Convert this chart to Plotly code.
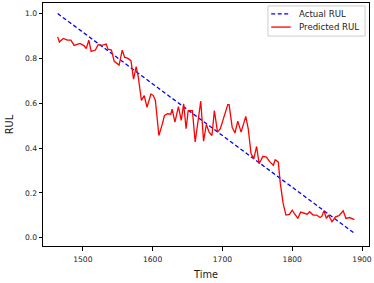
import plotly.graph_objects as go

actual_time = [1464, 1889]
actual_rul = [1.0, 0.02]

# Predicted RUL
pred_time = [1464, 1466.5, 1472, 1478, 1483, 1487.6, 1496, 1502, 1505, 1508.6, 1512, 1518, 1522, 1527,
             1531, 1533.5, 1536, 1541, 1545, 1552, 1556.5, 1560, 1564, 1569, 1572.7, 1576.5, 1579.4,
             1584, 1588, 1592, 1597.6, 1601, 1604, 1609, 1614, 1617, 1621.5, 1626, 1628, 1632, 1637,
             1641, 1644.5, 1648, 1651, 1657, 1661, 1664.6, 1669, 1673, 1677, 1681, 1685, 1688.5, 1693,
             1697, 1703, 1707.7, 1709.6, 1714, 1718, 1722, 1726.8, 1733.5, 1737, 1741, 1745, 1749,
             1752.6, 1758, 1763, 1768, 1773, 1775.6, 1780, 1783, 1787, 1791, 1796, 1800, 1803, 1808,
             1812, 1818, 1821.5, 1825, 1830, 1835, 1840, 1842.6, 1845.5, 1849, 1852, 1857, 1862, 1867,
             1873, 1877, 1882, 1889]
pred_rul = [0.896, 0.873, 0.889, 0.881, 0.881, 0.858, 0.867, 0.856, 0.844, 0.881, 0.831, 0.837, 0.861, 0.858,
            0.861, 0.864, 0.841, 0.837, 0.787, 0.770, 0.837, 0.804, 0.801, 0.790, 0.707, 0.763, 0.719,
            0.612, 0.634, 0.582, 0.641, 0.634, 0.612, 0.456, 0.508, 0.545, 0.553, 0.551, 0.573, 0.516, 0.585,
            0.523, 0.597, 0.486, 0.567, 0.567, 0.427, 0.501, 0.609, 0.431, 0.505, 0.471, 0.456, 0.567, 0.471,
            0.486, 0.553, 0.594, 0.594, 0.493, 0.467, 0.520, 0.471, 0.541, 0.486, 0.375, 0.353, 0.407,
            0.330, 0.363, 0.360, 0.338, 0.323, 0.348, 0.338, 0.241, 0.153, 0.101, 0.104, 0.123, 0.108, 0.086,
            0.114, 0.108, 0.105, 0.116, 0.101, 0.101, 0.090, 0.096, 0.120, 0.086, 0.101, 0.071, 0.093, 0.098,
            0.120, 0.086, 0.090, 0.081]

x_ticks = [1500, 1600, 1700, 1800, 1900]
y_ticks = [0.0, 0.2, 0.4, 0.6, 0.8, 1.0]
series_names = ["Actual RUL", "Predicted RUL"]
series_colors = ["#0000ff", "#ff0000"]
series_dash = ["4px,2.5px", "solid"]

font = "DejaVu Sans"
fig = go.Figure()
fig.add_trace(go.Scatter(x=actual_time, y=actual_rul, mode="lines", name=series_names[0],
                         showlegend=False,
                         line=dict(color=series_colors[0], width=1.3, dash=series_dash[0])))
fig.add_trace(go.Scatter(x=pred_time, y=pred_rul, mode="lines", name=series_names[1],
                         showlegend=False,
                         line=dict(color=series_colors[1], width=1.3, dash=series_dash[1])))

axis_common = dict(showline=True, mirror=True, linecolor="black", linewidth=1, showgrid=False,
                   zeroline=False, ticks="outside", ticklen=3.5, tickwidth=0.8, tickcolor="black",
                   tickfont=dict(family=font, size=7.6, color="#222"))
fig.update_xaxes(range=[1443, 1910], tickvals=x_ticks, ticktext=[str(v) for v in x_ticks],
                 ticklabelstandoff=2,
                 title=dict(text="Time", font=dict(family=font, size=9.8, color="#222"), standoff=8),
                 **axis_common)
fig.update_yaxes(range=[-0.037, 1.047], tickvals=y_ticks, ticktext=[f"{v:.1f}" for v in y_ticks],
                 title=dict(text="RUL", font=dict(family=font, size=9.8, color="#222"), standoff=9),
                 **axis_common)

# Compact matplotlib-style legend box (top right inside the axes)
fig.add_shape(type="rect", xref="paper", yref="paper", x0=0.690, x1=0.988, y0=0.864, y1=0.988,
              line=dict(color="#cccccc", width=1), fillcolor="rgba(255,255,255,0.8)", layer="above")
legend_rows_y = [0.955, 0.901]
for name, color, dash, ly in zip(series_names, series_colors, series_dash, legend_rows_y):
    fig.add_shape(type="line", xref="paper", yref="paper", x0=0.700, x1=0.760, y0=ly, y1=ly,
                  line=dict(color=color, width=1.3, dash=dash), layer="above")
    fig.add_annotation(text=name, xref="paper", yref="paper", x=0.778, y=ly, xanchor="left",
                       yanchor="middle", showarrow=False,
                       font=dict(family=font, size=8.6, color="#222"))

fig.update_layout(width=374, height=283, margin=dict(l=43, r=5, t=3, b=37),
                  plot_bgcolor="white", paper_bgcolor="white", showlegend=False)
fig.write_html("out.html", config={"displayModeBar": False},
               post_script="document.body.style.margin='0';document.body.style.padding='0';document.body.style.overflow='hidden';")
